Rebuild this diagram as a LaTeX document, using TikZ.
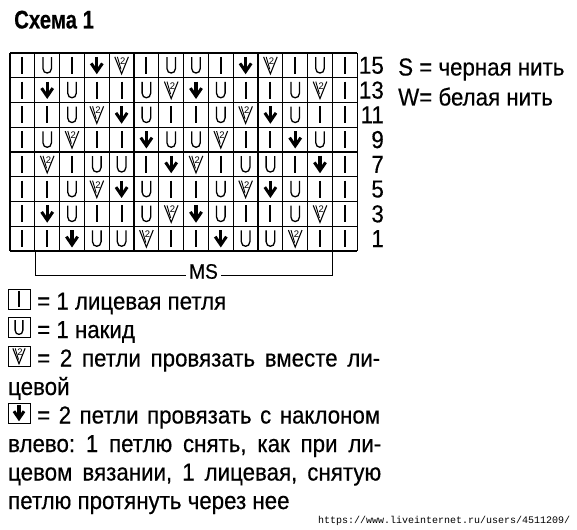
\documentclass[tikz,border=0pt]{standalone}
\usepackage{fontspec}
\setmainfont{Liberation Sans}[FakeStretch=0.91, FakeBold=0.4]
\newfontfamily\titlefont{Liberation Sans}[FakeStretch=0.8, FakeBold=0.3]
\newfontfamily\smallfont{Liberation Sans}
\newfontfamily\wmfont{Liberation Mono}
\usetikzlibrary{calc}
\frenchspacing
\newcommand\chartk{\draw[line width=2pt] (0,-8.5) -- (0,8.5);}
\newcommand\charty{\draw[line width=1.3pt] (-4.3,-8.3) -- (-4.3,3) .. controls (-4.3,9.2) and (4.3,9.2) .. (4.3,3) -- (4.3,-8.3);}
\newcommand\charta{\draw[line width=3.2pt] (0,-8.5) -- (0,6);
  \draw[line width=3pt, line join=miter, miter limit=4] (-5.6,-2) -- (0,6.2) -- (5.6,-2);}
\newcommand\chartv{\draw[line width=1.1pt, line join=miter] (-6.8,-8.5) -- (0,8.5) -- (6.8,-8.5);
  \draw[line width=0.9pt] (-4.2,-8.5) -- (-0.6,4);
  \node[font=\smallfont\fontsize{9.5}{9.5}\selectfont, inner sep=0pt] at (1.2,-4.2) {2};}
\begin{document}
\begin{tikzpicture}[x=1pt,y=-1pt,
  txt/.style={inner sep=0pt, font=\fontsize{24.5}{28}\selectfont},
  lab/.style={inner sep=0pt, font=\fontsize{24.5}{28}\selectfont, anchor=east},
  legbox/.style={line width=1pt},
  gridline/.style={line width=1.1pt}]
\useasboundingbox (0,0) rectangle (577,529);
\fill[white] (0,0) rectangle (577,529);
% title
\node[inner sep=0pt, anchor=base west, font=\titlefont\bfseries\fontsize{25.5}{28}\selectfont] (title) at (14,28.5) {Схема 1};
% grid
\foreach \i in {0,...,14} \draw[gridline] ({10+\i*24.8},53) -- ({10+\i*24.8},251);
\foreach \j in {0,...,8} \draw[gridline] (10,{53+\j*24.75}) -- (357.2,{53+\j*24.75});
\foreach \row [count=\r from 0] in {
  {k,y,k,a,v,k,y,y,k,a,v,k,y,k},
  {k,a,y,k,k,y,v,a,y,k,k,y,v,k},
  {k,k,y,v,a,y,k,k,y,v,a,y,k,k},
  {k,y,v,k,k,a,y,y,v,k,k,a,y,k},
  {k,v,k,y,y,k,a,v,k,y,y,k,a,k},
  {k,k,y,v,a,y,k,k,y,v,a,y,k,k},
  {k,a,y,k,k,y,v,a,y,k,k,y,v,k},
  {k,k,a,y,y,v,k,k,a,y,y,v,k,k}}{
  \foreach \s [count=\c from 0] in \row {
    \begin{scope}[shift={({10+24.8*(\c+0.5)},{53+24.75*(\r+0.5)})}]
      \csname chart\s\endcsname
    \end{scope}
  }
}
% row numbers
\foreach \n [count=\r from 0] in {15,13,11,9,7,5,3,1}
  \node[lab] (row\n) at (384,{53+24.75*(\r+0.5)}) {\n};
% right legend
\node[txt, anchor=base west] (black) at (398,75.5) {S = черная нить};
\node[txt, anchor=base west] (white) at (398,105.5) {W= белая нить};
% MS bracket
\coordinate (msl) at (35,251);
\coordinate (msr) at (332,251);
\node[inner sep=3pt, font=\fontsize{21}{24}\selectfont] (ms) at (203.5,271.5) {MS};
\draw[line width=1pt] (msl) |- ([yshift=-4pt]ms.west);
\draw[line width=1pt] (msr) |- ([yshift=-4pt]ms.east);
% legend boxes
\draw[legbox] (8,289) rectangle (30,309);
\begin{scope}[shift={(19,299)}, scale=0.9] \chartk \end{scope}
\draw[legbox] (8,317.5) rectangle (30,337.5);
\begin{scope}[shift={(19,327.5)}, scale=0.9] \charty \end{scope}
\draw[legbox] (8,346) rectangle (30,366);
\begin{scope}[shift={(19,356)}, scale=0.9] \chartv \end{scope}
\draw[legbox] (8,403) rectangle (30,423);
\begin{scope}[shift={(19,413)}, scale=0.9] \charta \end{scope}
% legend text
\node[txt, anchor=base west] (l1) at (37,309.5) {= 1 лицевая петля};
\node[txt, anchor=base west] (l2) at (37,338) {= 1 накид};
\node[txt, anchor=base west] (l3) at (37,366.5) {\makebox[343pt][s]{= 2 петли провязать вместе ли-}};
\node[txt, anchor=base west] (l4) at (8,395) {цевой};
\node[txt, anchor=base west] (l5) at (37,423.5) {\makebox[343pt][s]{= 2 петли провязать с наклоном}};
\node[txt, anchor=base west] (l6) at (8,452) {\makebox[373pt][s]{влево: 1 петлю снять, как при ли-}};
\node[txt, anchor=base west] (l7) at (8,480.5) {\makebox[373pt][s]{цевом вязании, 1 лицевая, снятую}};
\node[txt, anchor=base west] (l8) at (8,509) {петлю протянуть через нее};
% watermark
\node[inner sep=0pt, anchor=base west, font=\wmfont\fontsize{10}{12}\selectfont] (wm) at (318,523) {https://www.liveinternet.ru/users/4511209/};
\end{tikzpicture}
\end{document}
